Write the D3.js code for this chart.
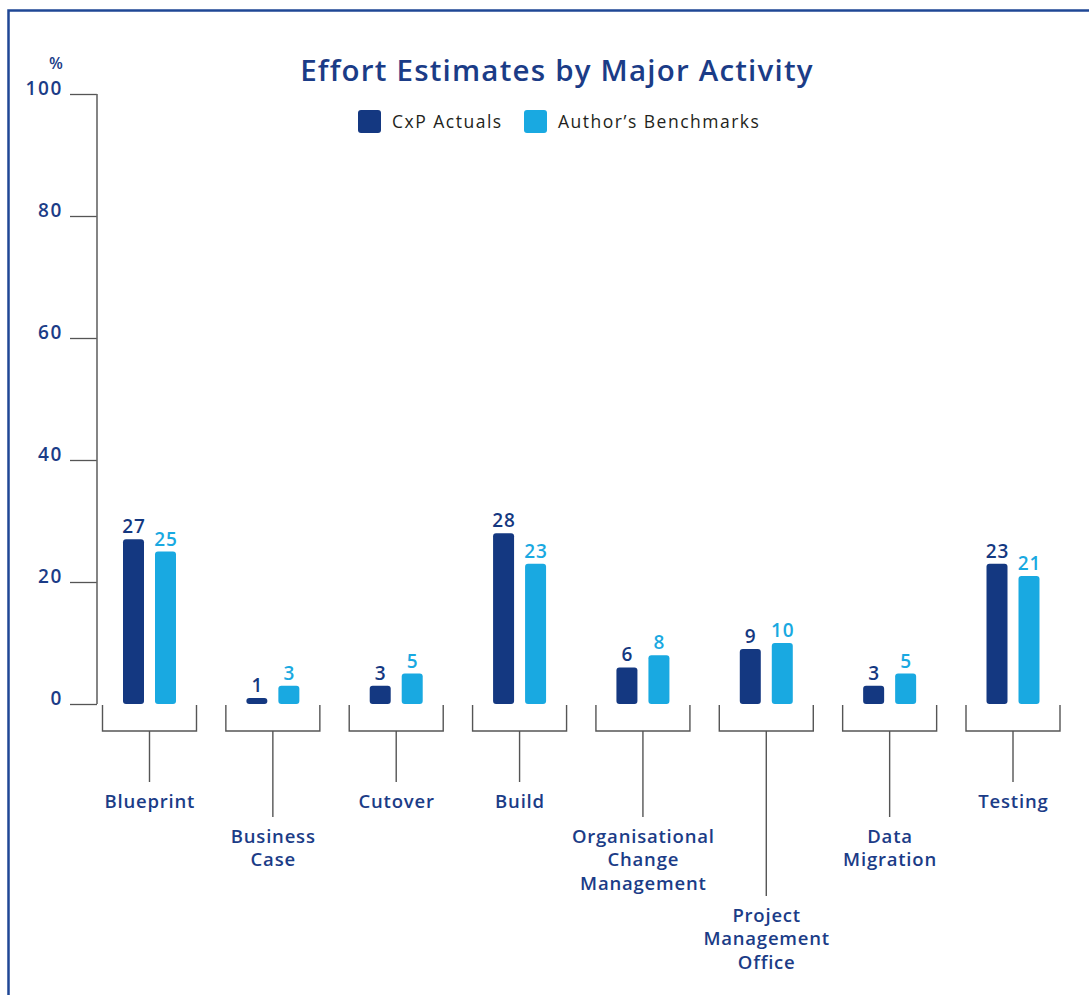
<!DOCTYPE html>
<html>
<head>
<meta charset="utf-8">
<script src="https://cdn.jsdelivr.net/npm/d3@7"></script>
<style>
  html, body { margin: 0; padding: 0; background: #fff; }
  svg { display: block; font-family: "Open Sans", sans-serif; }
</style>
</head>
<body>
<svg id="chart" width="1089" height="995"></svg>
<script>
// chart data
const categories = ["Blueprint", "Business Case", "Cutover", "Build",
  "Organisational Change Management", "Project Management Office", "Data Migration", "Testing"];
const labelLines = [["Blueprint"], ["Business", "Case"], ["Cutover"], ["Build"],
  ["Organisational", "Change", "Management"], ["Project", "Management", "Office"], ["Data", "Migration"], ["Testing"]];
const cxpActuals = [27, 1, 3, 28, 6, 9, 3, 23];
const authorBenchmarks = [25, 3, 5, 23, 8, 10, 5, 21];
const seriesNames = ["CxP Actuals", "Author\u2019s Benchmarks"];
const yTicks = [0, 20, 40, 60, 80, 100];
// how far down each label hangs (0 short, 1 medium, 2 long)
const dropLevel = [0, 1, 0, 0, 1, 2, 1, 0];

const dark = "#143881", light = "#19a9e1";
const textBlue = "#1b3c87";
const lineGrey = "#555";

const svg = d3.select("#chart");

// frame (runs off the right and bottom edge)
svg.append("rect")
  .attr("x", 8.5).attr("y", 10.5)
  .attr("width", 1200).attr("height", 1100)
  .attr("fill", "none").attr("stroke", "#1f4795").attr("stroke-width", 2.5);

// scales
const y = d3.scaleLinear().domain([0, 100]).range([704, 94]);
const x = d3.scalePoint().domain(categories).range([149.5, 1013]);
const barW = 21, barOff = 16;

// title
svg.append("text")
  .attr("x", 557).attr("y", 81)
  .attr("text-anchor", "middle")
  .attr("font-size", 29.5).attr("font-weight", 600)
  .attr("letter-spacing", 1.2)
  .attr("fill", textBlue)
  .text("Effort Estimates by Major Activity");

// legend
const legend = svg.append("g");
[[358, dark], [524, light]].forEach(([lx, c], i) => {
  legend.append("rect")
    .attr("x", lx).attr("y", 110).attr("width", 23).attr("height", 23)
    .attr("rx", 3).attr("fill", c);
  legend.append("text")
    .attr("x", lx + 34).attr("y", 127.5)
    .attr("font-size", 17.5).attr("letter-spacing", 1.5)
    .attr("fill", "#231f20")
    .text(seriesNames[i]);
});

// y axis
const yAxis = svg.append("g").attr("transform", "translate(97,0)")
  .call(d3.axisLeft(y).tickValues(yTicks).tickSize(27).tickPadding(7));
yAxis.select(".domain").remove();
yAxis.selectAll(".tick line").attr("stroke", lineGrey).attr("stroke-width", 1.3);
yAxis.selectAll(".tick text")
  .attr("dy", 0)
  .attr("font-family", "Open Sans, sans-serif")
  .attr("font-size", 19).attr("font-weight", 600)
  .attr("letter-spacing", 1.6)
  .attr("fill", textBlue);
svg.append("line")
  .attr("x1", 97).attr("x2", 97).attr("y1", y(100)).attr("y2", y(0))
  .attr("stroke", "#666").attr("stroke-width", 1.6);
svg.append("text")
  .attr("x", 56).attr("y", 69).attr("text-anchor", "middle")
  .attr("font-size", 16).attr("font-weight", 600).attr("fill", textBlue)
  .text("%");

// bars
const series = [
  { values: cxpActuals, color: dark, off: -barOff },
  { values: authorBenchmarks, color: light, off: barOff }
];
series.forEach(s => {
  const g = svg.append("g");
  g.selectAll("rect").data(s.values).join("rect")
    .attr("x", (d, i) => x(categories[i]) + s.off - barW / 2)
    .attr("y", d => y(d))
    .attr("width", barW)
    .attr("height", d => y(0) - y(d))
    .attr("rx", 3)
    .attr("fill", s.color);
  g.selectAll("text").data(s.values).join("text")
    .attr("x", (d, i) => x(categories[i]) + s.off + 0.5)
    .attr("y", d => y(d) - 6)
    .attr("text-anchor", "middle")
    .attr("font-size", 19).attr("font-weight", 600)
    .attr("letter-spacing", 1)
    .attr("fill", s.color)
    .text(d => d);
});

// brackets + category labels
const dropEnd = [782, 817, 896];
const brHalf = 47, brTop = 705, brBot = 731;
const cats = svg.append("g");
categories.forEach((c, i) => {
  const cx = x(c);
  const end = dropEnd[dropLevel[i]];
  cats.append("path")
    .attr("d", `M${cx - brHalf},${brTop}V${brBot}H${cx + brHalf}V${brTop}M${cx},${brBot}V${end}`)
    .attr("fill", "none").attr("stroke", lineGrey).attr("stroke-width", 1.4);
  const t = cats.append("text")
    .attr("text-anchor", "middle")
    .attr("font-size", 18.5).attr("font-weight", 600)
    .attr("letter-spacing", 0.8)
    .attr("fill", textBlue);
  labelLines[i].forEach((ln, k) => {
    t.append("tspan").attr("x", cx + 0.4).attr("y", end + 25.5 + k * 23.5).text(ln);
  });
});
</script>
</body>
</html>
